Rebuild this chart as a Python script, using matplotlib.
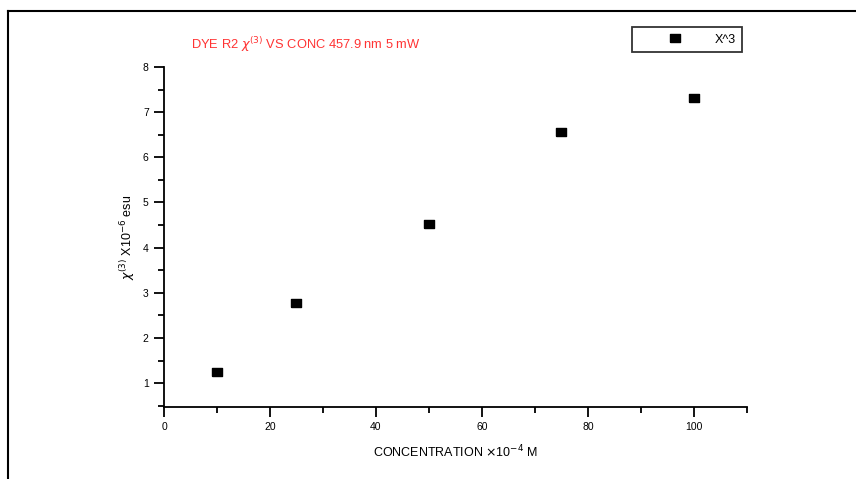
import matplotlib
matplotlib.use("Agg")
import matplotlib.pyplot as plt
from matplotlib.lines import Line2D
from matplotlib.ticker import MultipleLocator

# data
conc = [10, 25, 50, 75, 100]
chi3 = [1.24, 2.77, 4.52, 6.57, 7.31]

plt.rcParams["font.family"] = ["Liberation Sans", "DejaVu Sans"]

fig = plt.figure(figsize=(8.56, 4.79), dpi=100)
ax = fig.add_axes([0.1916, 0.1503, 0.681, 0.7097])

# wide rectangle marker like the Origin export
rect = [(-1.35, -1), (1.35, -1), (1.35, 1), (-1.35, 1), (-1.35, -1)]
ax.plot(conc, chi3, ls="none", marker=rect, color="black", ms=6.9,
        label="X^3")

ax.set_xlim(0, 110)
ax.set_ylim(0.47, 8)
ax.set_xticks([0, 20, 40, 60, 80, 100])
ax.set_yticks([1, 2, 3, 4, 5, 6, 7, 8])
ax.xaxis.set_minor_locator(MultipleLocator(10))
ax.yaxis.set_minor_locator(MultipleLocator(0.5))

ax.spines["top"].set_visible(False)
ax.spines["right"].set_visible(False)
for s in ("left", "bottom"):
    ax.spines[s].set_linewidth(1.3)
ax.tick_params(which="major", direction="out", length=7, width=1.3,
               labelsize=7.5, pad=4)
ax.tick_params(which="minor", direction="out", length=4, width=1.3)

ax.set_xlabel(r"CONCENTRATION $\times$10$^{-4}$ M", fontsize=9,
              labelpad=8)
ax.set_ylabel(r"$\chi^{(3)}$ X10$^{-6}$ esu", fontsize=9, labelpad=4)

fig.text(0.357, 0.907, r"DYE R2 $\chi^{(3)}$ VS CONC 457.9 nm 5 mW",
         color="#ff3333", fontsize=9.3, ha="center", va="center")

leg = ax.legend(loc="center", bbox_to_anchor=(0.8026, 0.9175),
                bbox_transform=fig.transFigure, fontsize=9, frameon=True,
                fancybox=False, edgecolor="black", handlelength=5.8,
                borderpad=0.5, handletextpad=0.3)
leg.get_frame().set_linewidth(1.3)

# outer frame (left and top edges of the pasted image)
fig.add_artist(Line2D([0.0095, 0.0095], [0.0, 0.977], color="black", lw=1.5,
                      transform=fig.transFigure))
fig.add_artist(Line2D([0.0095, 1.0], [0.977, 0.977], color="black", lw=1.5,
                      transform=fig.transFigure))

fig.savefig("out.png", dpi=100)
